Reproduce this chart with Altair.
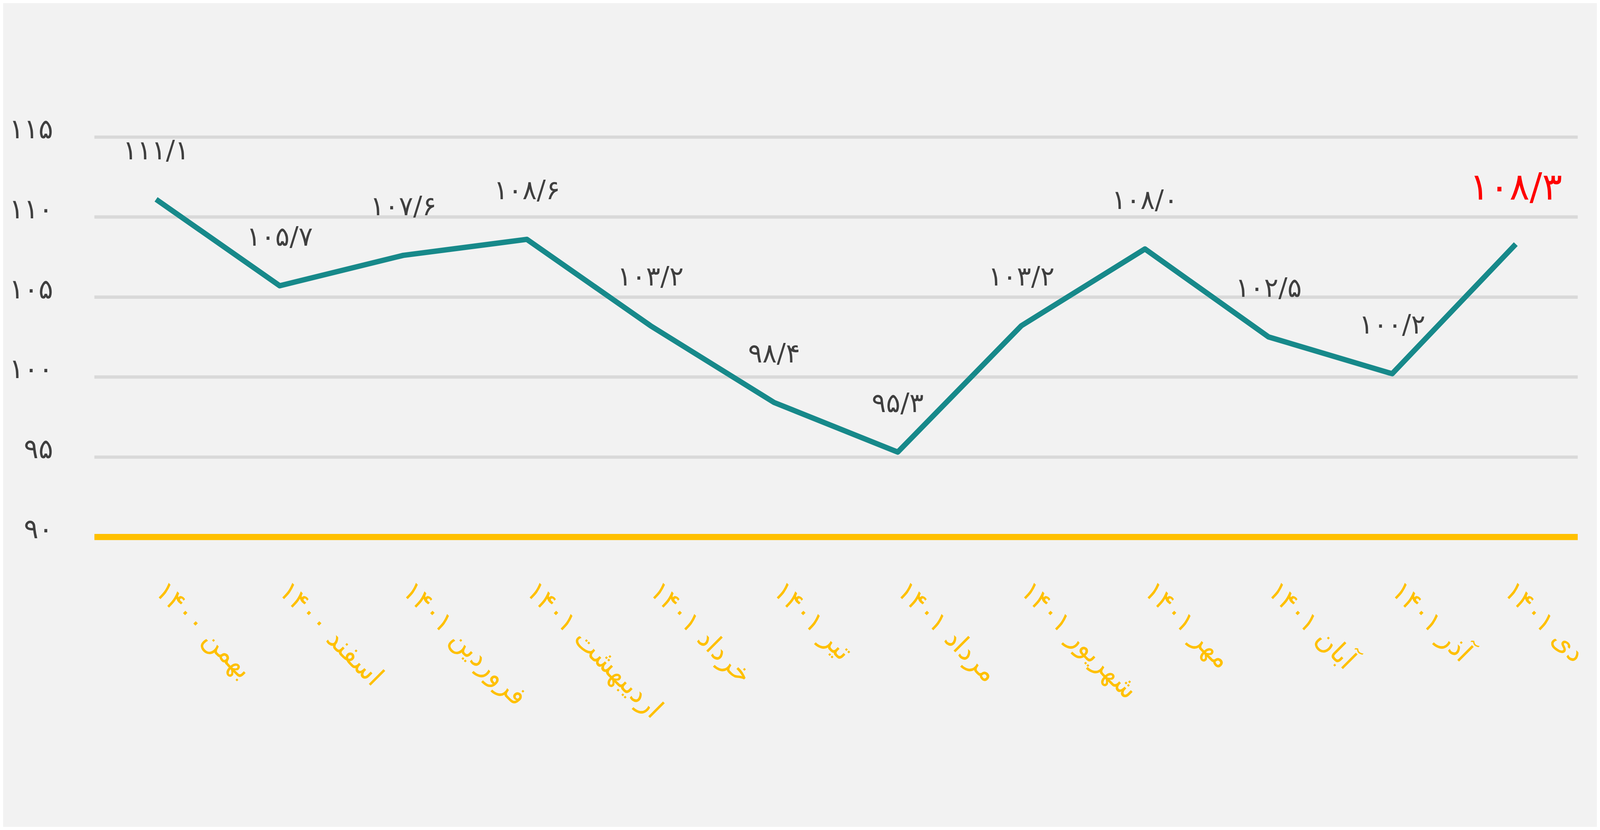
import json
import altair as alt
import pandas as pd

# ---- data ----
months = ["بهمن ۱۴۰۰", "اسفند ۱۴۰۰", "فروردین ۱۴۰۱", "اردیبهشت ۱۴۰۱", "خرداد ۱۴۰۱",
          "تیر ۱۴۰۱", "مرداد ۱۴۰۱", "شهریور ۱۴۰۱", "مهر ۱۴۰۱", "آبان ۱۴۰۱",
          "آذر ۱۴۰۱", "دی ۱۴۰۱"]
values = [111.1, 105.7, 107.6, 108.6, 103.2, 98.4, 95.3, 103.2, 108.0, 102.5, 100.2, 108.3]
y_ticks = [90, 95, 100, 105, 110, 115]
y_tick_labels = ["۹۰", "۹۵", "۱۰۰", "۱۰۵", "۱۱۰", "۱۱۵"]

_fa = str.maketrans("0123456789.", "۰۱۲۳۴۵۶۷۸۹/")
value_labels = [f"{v:.1f}".translate(_fa) for v in values]

df = pd.DataFrame({
    "month": months,
    "value": values,
    "label": value_labels,
    "last": [i == len(months) - 1 for i in range(len(months))],
})

FONT = "DejaVu Sans"
TEAL = "#17898A"
GOLD = "#FFC000"
TEXT = "#3F3F3F"

label_expr = " : ".join(
    f"datum.value == {t} ? '{l}'" for t, l in zip(y_ticks, y_tick_labels)
) + " : ''"

x_enc = alt.X(
    "month:N", sort=None, title=None,
    scale=alt.Scale(padding=0.5),
    axis=alt.Axis(
        labelAngle=45, labelAlign="left", labelBaseline="alphabetic",
        labelColor=GOLD, labelFont=FONT, labelFontSize=92, labelPadding=187,
        labelOffset=alt.expr(f"datum.value === {json.dumps(months[-1])} ? -45 : -8"),
        ticks=False, tickSize=0, domainColor=GOLD, domainWidth=21,
        grid=False, labelOverlap=False, labelLimit=0,
    ),
)
y_enc = alt.Y(
    "value:Q", title=None,
    scale=alt.Scale(domain=[90, 115], nice=False, zero=False),
    axis=alt.Axis(
        values=y_ticks, labelExpr=label_expr, labelFont=FONT, labelFontSize=92,
        labelColor=TEXT, labelAlign="right", labelBaseline="middle",
        labelOffset=-24, labelPadding=139, ticks=False, tickSize=0,
        domain=False, grid=True, gridColor="#D9D9D9", gridWidth=11,
    ),
)

base = alt.Chart(df)

line = base.mark_line(color=TEAL, strokeWidth=18, strokeJoin="round").encode(x=x_enc, y=y_enc)

labels = base.transform_filter("!datum.last").mark_text(
    font=FONT, fontSize=90, color=TEXT, baseline="alphabetic", align="center", dy=-135
).encode(x=alt.X("month:N", sort=None), y="value:Q", text="label:N")

last_label = base.transform_filter("datum.last").mark_text(
    font=FONT, fontSize=126, color="#FF0000", baseline="alphabetic", align="center", dy=-150
).encode(x=alt.X("month:N", sort=None), y="value:Q", text="label:N")

chart = alt.layer(line, labels, last_label).properties(
    width=4996, height=1347,
    autosize=alt.AutoSizeParams(type="none"),
    padding={"left": 307, "top": 118, "right": 65, "bottom": 644},
    background="#F2F2F2",
).configure_view(stroke=None)

chart.save("out.html", embed_options={"renderer": "svg", "actions": False})
